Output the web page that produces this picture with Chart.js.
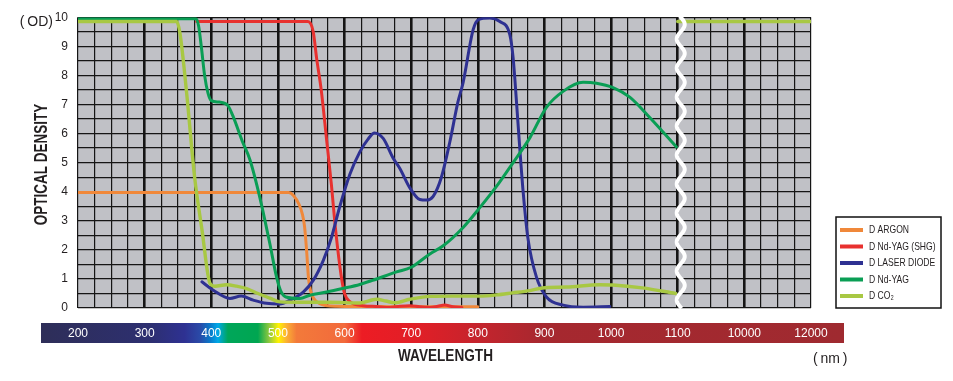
<!DOCTYPE html>
<html><head><meta charset="utf-8">
<script src="https://cdn.jsdelivr.net/npm/chart.js@4.4.0/dist/chart.umd.min.js"></script>
<style>html,body{margin:0;padding:0;background:#fff}</style>
</head><body>
<canvas id="c" width="953" height="381"></canvas>
<script>
// ---- data (wavelength in nm, optical density in OD) ----
const xTickValues = [200, 300, 400, 500, 600, 700, 800, 900, 1000, 1100, 10000, 12000];
const yTickValues = [0, 1, 2, 3, 4, 5, 6, 7, 8, 9, 10];
const seriesNames = ['D ARGON', 'D Nd-YAG (SHG)', 'D LASER DIODE', 'D Nd-YAG', 'D CO\u2082'];
const xTitle = 'WAVELENGTH';
const yTitle = 'OPTICAL DENSITY';

const argonNm = [200, 516, 523, 532, 537, 540, 543, 546, 549, 553, 562, 588, 640, 720, 800];
const argonOD = [3.97, 3.97, 3.88, 3.55, 3.2, 2.8, 2.0, 1.0, 0.6, 0.35, 0.16, 0.06, 0.05, 0.04, 0.04];

const shgNm = [378, 545, 553, 558, 565, 573, 580, 587, 595, 600, 608, 628, 648, 668, 683, 698, 713, 728, 740, 750, 763, 776];
const shgOD = [9.85, 9.85, 9.5, 8.6, 7.5, 5.8, 4.3, 2.6, 1.1, 0.5, 0.22, 0.08, 0.05, 0.02, 0.06, 0.08, 0.04, 0.02, 0.06, 0.1, 0.04, 0.02];

const ldNm = [386, 403, 428, 445, 463, 483, 503, 518, 538, 553, 568, 580, 593, 608, 623, 635, 645, 658, 673, 683, 698, 713, 723, 733, 745, 758, 770, 778, 793, 801, 818, 833, 848, 853, 858, 862, 868, 875, 888, 903, 928, 958, 998];
const ldOD = [0.9, 0.61, 0.33, 0.41, 0.27, 0.16, 0.14, 0.27, 0.55, 0.95, 1.63, 2.4, 3.5, 4.6, 5.37, 5.8, 6.02, 5.83, 5.15, 4.8, 4.13, 3.73, 3.71, 3.84, 4.47, 5.71, 7.07, 7.76, 9.57, 9.92, 9.97, 9.85, 9.4, 8.6, 7.1, 5.8, 4.0, 2.43, 1.06, 0.38, 0.1, 0.03, 0.05];

const ndNm = [200, 377, 381, 385, 390, 395, 400, 412, 425, 432, 447, 458, 473, 488, 498, 504, 512, 533, 548, 573, 597, 623, 642, 678, 700, 728, 748, 778, 803, 828, 853, 878, 903, 928, 958, 978, 1003, 1028, 1058, 1098];
const ndOD = [9.95, 9.95, 9.7, 9.0, 8.0, 7.4, 7.13, 7.08, 6.96, 6.63, 5.71, 5.1, 3.79, 2.2, 1.06, 0.6, 0.38, 0.33, 0.44, 0.55, 0.67, 0.81, 0.95, 1.24, 1.4, 1.86, 2.14, 2.77, 3.45, 4.18, 5.0, 5.85, 6.9, 7.45, 7.76, 7.73, 7.58, 7.25, 6.55, 5.54];

const co2Nm = [200, 348, 353, 363, 375, 386, 398, 405, 423, 438, 453, 470, 488, 503, 530, 578, 623, 648, 662, 675, 698, 728, 760, 803, 828, 852, 878, 897, 933, 983, 1003, 1047, 1097];
const co2OD = [9.85, 9.85, 9.45, 7.4, 4.5, 2.7, 0.85, 0.75, 0.8, 0.75, 0.67, 0.5, 0.34, 0.21, 0.2, 0.2, 0.17, 0.3, 0.24, 0.18, 0.3, 0.4, 0.41, 0.41, 0.45, 0.52, 0.6, 0.69, 0.72, 0.8, 0.79, 0.69, 0.5];
const co2FarNm = [1100, 12000];
const co2FarOD = [9.85, 9.85];

// ---- broken wavelength axis: 200-1100 linear, then 1100 | 10000 | 12000 ----
function toAxis(nm) {
  if (nm <= 1100) return nm;
  if (nm <= 10000) return 1100 + (nm - 1100) * 100 / 8900;
  return 1200 + (nm - 10000) / 20;
}
function pts(xs, ys) { return xs.map((v, i) => ({x: toAxis(v), y: ys[i]})); }

const colors = ['#f0883a', '#e8312f', '#2e3192', '#0a9e55', '#a8c843'];
const SANS = "'Liberation Sans', Arial, sans-serif";

const co2Data = pts(co2Nm, co2OD).concat([{x: 1099, y: null}], pts(co2FarNm, co2FarOD));

const datasets = [
  {label: seriesNames[0], data: pts(argonNm, argonOD), borderColor: colors[0], order: 5},
  {label: seriesNames[1], data: pts(shgNm, shgOD), borderColor: colors[1], order: 4},
  {label: seriesNames[2], data: pts(ldNm, ldOD), borderColor: colors[2], order: 3},
  {label: seriesNames[3], data: pts(ndNm, ndOD), borderColor: colors[3], order: 2},
  {label: seriesNames[4], data: co2Data, borderColor: colors[4], order: 1, borderWidth: 3.4}
].map(d => Object.assign({borderWidth: 3, pointRadius: 0, fill: false, tension: 0.4,
  cubicInterpolationMode: 'monotone', spanGaps: false, borderCapStyle: 'round', borderJoinStyle: 'round'}, d));

const tickPos = xTickValues.map(toAxis);

// spectrum bar colour stops (wavelength -> colour)
const spectrumStops = [
  [144, '#2e2e58'], [308, '#2d2f70'], [360, '#2e3192'], [383, '#2a4aa8'], [398, '#0a78c8'],
  [410, '#00a8e8'], [425, '#00a65a'], [470, '#00a651'], [488, '#9acb3c'], [501, '#fff200'],
  [513, '#fbb034'], [528, '#f37a3a'], [600, '#f26a3c'], [626, '#ed1c24'], [713, '#e01f27'],
  [803, '#c4242d'], [900, '#a6282f'], [1349, '#9f2a30']
];

// condensed text helper (horizontally compressed real text)
function narrowText(ctx, text, x, y, font, sx, rot, align) {
  ctx.save();
  ctx.translate(x, y);
  if (rot) ctx.rotate(rot);
  ctx.scale(sx, 1);
  ctx.font = font;
  ctx.textAlign = align || 'center';
  ctx.textBaseline = 'middle';
  ctx.fillText(text, 0, 0);
  ctx.restore();
}

const deco = {
  id: 'deco',
  beforeDraw(chart) {
    const {ctx, chartArea: a, scales: {x}} = chart;
    ctx.save();
    ctx.fillStyle = '#fff';
    ctx.fillRect(0, 0, chart.width, chart.height);
    ctx.fillStyle = '#c0c1c6';
    ctx.fillRect(a.left, a.top, a.right - a.left, a.bottom - a.top);
    // spectrum bar
    const bl = a.left - 37, br = a.right + 33, bt = a.bottom + 15, bh = 20;
    const g = ctx.createLinearGradient(bl, 0, br, 0);
    spectrumStops.forEach(([v, c]) => {
      const px = x.getPixelForValue(v);
      g.addColorStop(Math.min(1, Math.max(0, (px - bl) / (br - bl))), c);
    });
    ctx.fillStyle = g;
    ctx.fillRect(bl, bt, br - bl, bh);
    ctx.restore();
  },
  afterDatasetsDraw(chart) {
    const {ctx, chartArea: a, scales: {x}} = chart;
    const cx = x.getPixelForValue(1100) + 3;
    ctx.save();
    ctx.strokeStyle = '#fff';
    ctx.lineWidth = 4;
    ctx.beginPath();
    for (let yy = a.top - 1; yy <= a.bottom + 1; yy += 1) {
      const xx = cx + 4 * Math.sin((yy - a.top) / 29 * 2 * Math.PI);
      if (yy === a.top - 1) ctx.moveTo(xx, yy); else ctx.lineTo(xx, yy);
    }
    ctx.stroke();
    ctx.restore();
  },
  afterDraw(chart) {
    const {ctx, chartArea: a} = chart;
    ctx.save();
    ctx.fillStyle = '#231f20';
    // axis titles
    narrowText(ctx, yTitle, 42, (a.top + a.bottom) / 2 + 2, 'bold 18px ' + SANS, 0.75, -Math.PI / 2);
    narrowText(ctx, xTitle, (a.left + a.right) / 2 + 1, 356, 'bold 17px ' + SANS, 0.8, 0);
    ctx.font = '14px ' + SANS;
    ctx.textBaseline = 'middle';
    ctx.textAlign = 'right';
    ctx.fillText('(\u2009OD)', a.left - 25, a.top + 5);
    ctx.textAlign = 'left';
    ctx.fillText('(\u2009nm\u2009)', a.right + 2, 359);
    // legend
    const lx = a.right + 25, ly = 217, lw = 105, lh = 91;
    ctx.fillStyle = '#fff';
    ctx.fillRect(lx, ly, lw, lh);
    ctx.strokeStyle = '#111';
    ctx.lineWidth = 1.5;
    ctx.strokeRect(lx, ly, lw, lh);
    chart.data.datasets.forEach((d, i) => {
      const yy = ly + 13 + i * 16.5;
      ctx.strokeStyle = d.borderColor;
      ctx.lineWidth = 4;
      ctx.beginPath();
      ctx.moveTo(lx + 4, yy);
      ctx.lineTo(lx + 27, yy);
      ctx.stroke();
      ctx.fillStyle = '#231f20';
      narrowText(ctx, d.label, lx + 33, yy, '11px ' + SANS, 0.78, 0, 'left');
    });
    ctx.restore();
  }
};

new Chart(document.getElementById('c'), {
  type: 'line',
  data: {datasets},
  options: {
    responsive: false,
    devicePixelRatio: 1,
    animation: false,
    events: [],
    layout: {padding: {top: 14, right: 142, left: 0, bottom: 0}},
    plugins: {legend: {display: false}, tooltip: {enabled: false}},
    scales: {
      x: {
        type: 'linear', min: 200, max: 1300,
        afterFit: s => { s.height = 73; },
        border: {display: false},
        grid: {
          color: '#151515', drawTicks: false,
          lineWidth: c => { const v = c.tick ? c.tick.value : 0; return (v % 100 === 0 && v > 200 && v < 1300) ? 2.6 : 1.2; }
        },
        ticks: {
          stepSize: 25, autoSkip: false, minRotation: 0, maxRotation: 0, padding: 18,
          color: '#ffffff', font: {family: SANS, size: 12},
          callback: v => { const i = tickPos.indexOf(v); return i >= 0 ? String(xTickValues[i]) : ''; }
        },
        title: {display: false}
      },
      y: {
        type: 'linear', min: 0, max: 10,
        afterFit: s => { s.width = 78; },
        border: {display: false},
        grid: {color: '#151515', lineWidth: 1.2, drawTicks: false},
        ticks: {
          stepSize: 0.5, autoSkip: false, padding: 10, color: '#231f20', font: {family: SANS, size: 12},
          callback: v => yTickValues.includes(v) ? String(v) : ''
        },
        title: {display: false}
      }
    }
  },
  plugins: [deco]
});
</script>
</body></html>
